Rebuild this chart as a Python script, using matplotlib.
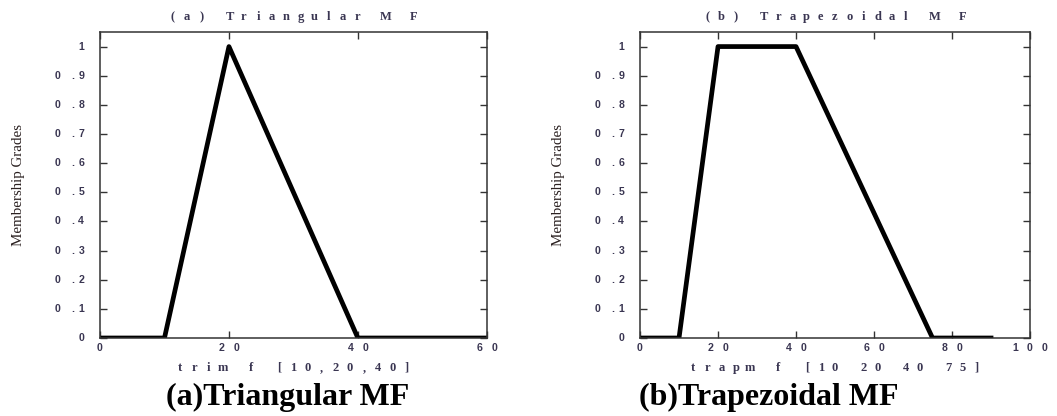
import matplotlib
matplotlib.use("Agg")
import matplotlib.pyplot as plt
from matplotlib.transforms import ScaledTranslation

# membership function break points
tri_x = [0, 10, 20, 40, 60]
tri_y = [0, 0, 1, 0, 0]
trap_x = [0, 10, 20, 40, 75, 90]
trap_y = [0, 0, 1, 1, 0, 0]

y_ticks = [0, 0.1, 0.2, 0.3, 0.4, 0.5, 0.6, 0.7, 0.8, 0.9, 1]
y_labels = ["0", "0 .1", "0 .2", "0 .3", "0 .4", "0 .5", "0 .6", "0 .7", "0 .8", "0 .9", "1"]
tri_xticks = [0, 20, 40, 60]
trap_xticks = [0, 20, 40, 60, 80, 100]

text_color = "#3a3652"
tick_kw = dict(family="Liberation Sans", fontsize=7.6, weight="bold", color=text_color)
label_kw = dict(family="Liberation Serif", fontsize=9, weight="bold", color=text_color)

fig = plt.figure(figsize=(10.57, 4.16), dpi=100)


def spaced_text(ax, x, y, s, pitch, transform, dx=0, dy=0, align="center", **kw):
    # draw a string one character at a time at a fixed pitch (points)
    n = len(s)
    for i, ch in enumerate(s):
        if align == "center":
            off = (i - (n - 1) / 2) * pitch
        else:  # right: last char centre at dx
            off = (i - (n - 1)) * pitch
        tr = transform + ScaledTranslation((off + dx) / 72, dy / 72, fig.dpi_scale_trans)
        ax.text(x, y, ch, transform=tr, ha="center", va="center", **kw)


def draw_mf(ax, x, y, xticks, xmax, title, xlabel):
    ax.plot(x, y, color="black", lw=3.4, solid_joinstyle="round")
    ax.set_xlim(0, xmax)
    ax.set_ylim(0, 1.05)
    ax.set_xticks(xticks)
    ax.set_yticks(y_ticks)
    ax.set_xticklabels([])
    ax.set_yticklabels([])
    ax.tick_params(direction="in", top=True, right=True, length=5, width=1,
                   color="#333333")
    for s in ax.spines.values():
        s.set_linewidth(1.1)
        s.set_color("#333333")

    # letter-spaced tick labels
    for t in xticks:
        spaced_text(ax, t, 0, str(t), 10.5, ax.get_xaxis_transform(), dy=-7.5, **tick_kw)
    for t, lab in zip(y_ticks, y_labels):
        spaced_text(ax, 0, t, lab, 5.8, ax.get_yaxis_transform(), dx=-13.5,
                    align="right", **tick_kw)

    spaced_text(ax, 0.5, 1.0, title, 10.2, ax.transAxes, dy=10.5, **label_kw)
    spaced_text(ax, 0.5, 0.0, xlabel, 10.2, ax.transAxes, dy=-21.5, **label_kw)

    ax.set_ylabel("Membership Grades", family="Liberation Serif", fontsize=10.8,
                  color="#2a2020")


ax1 = fig.add_axes([0.0946, 0.1875, 0.366, 0.7356])
ax2 = fig.add_axes([0.6055, 0.1875, 0.369, 0.7356])

draw_mf(ax1, tri_x, tri_y, tri_xticks, 60, "(a) Triangular M F", "trim f [10,20,40]")
draw_mf(ax2, trap_x, trap_y, trap_xticks, 100, "(b) Trapezoidal M F", "trapm f [10 20 40 75]")
ax1.yaxis.set_label_coords(-0.194, 0.5)
ax2.yaxis.set_label_coords(-0.192, 0.5)

fig.text(0.272, 0.045, "(a)Triangular MF", family="Liberation Serif", weight="bold",
         fontsize=23, ha="center", va="center")
fig.text(0.727, 0.045, "(b)Trapezoidal MF", family="Liberation Serif", weight="bold",
         fontsize=23, ha="center", va="center")

fig.savefig("out.png", dpi=100)
